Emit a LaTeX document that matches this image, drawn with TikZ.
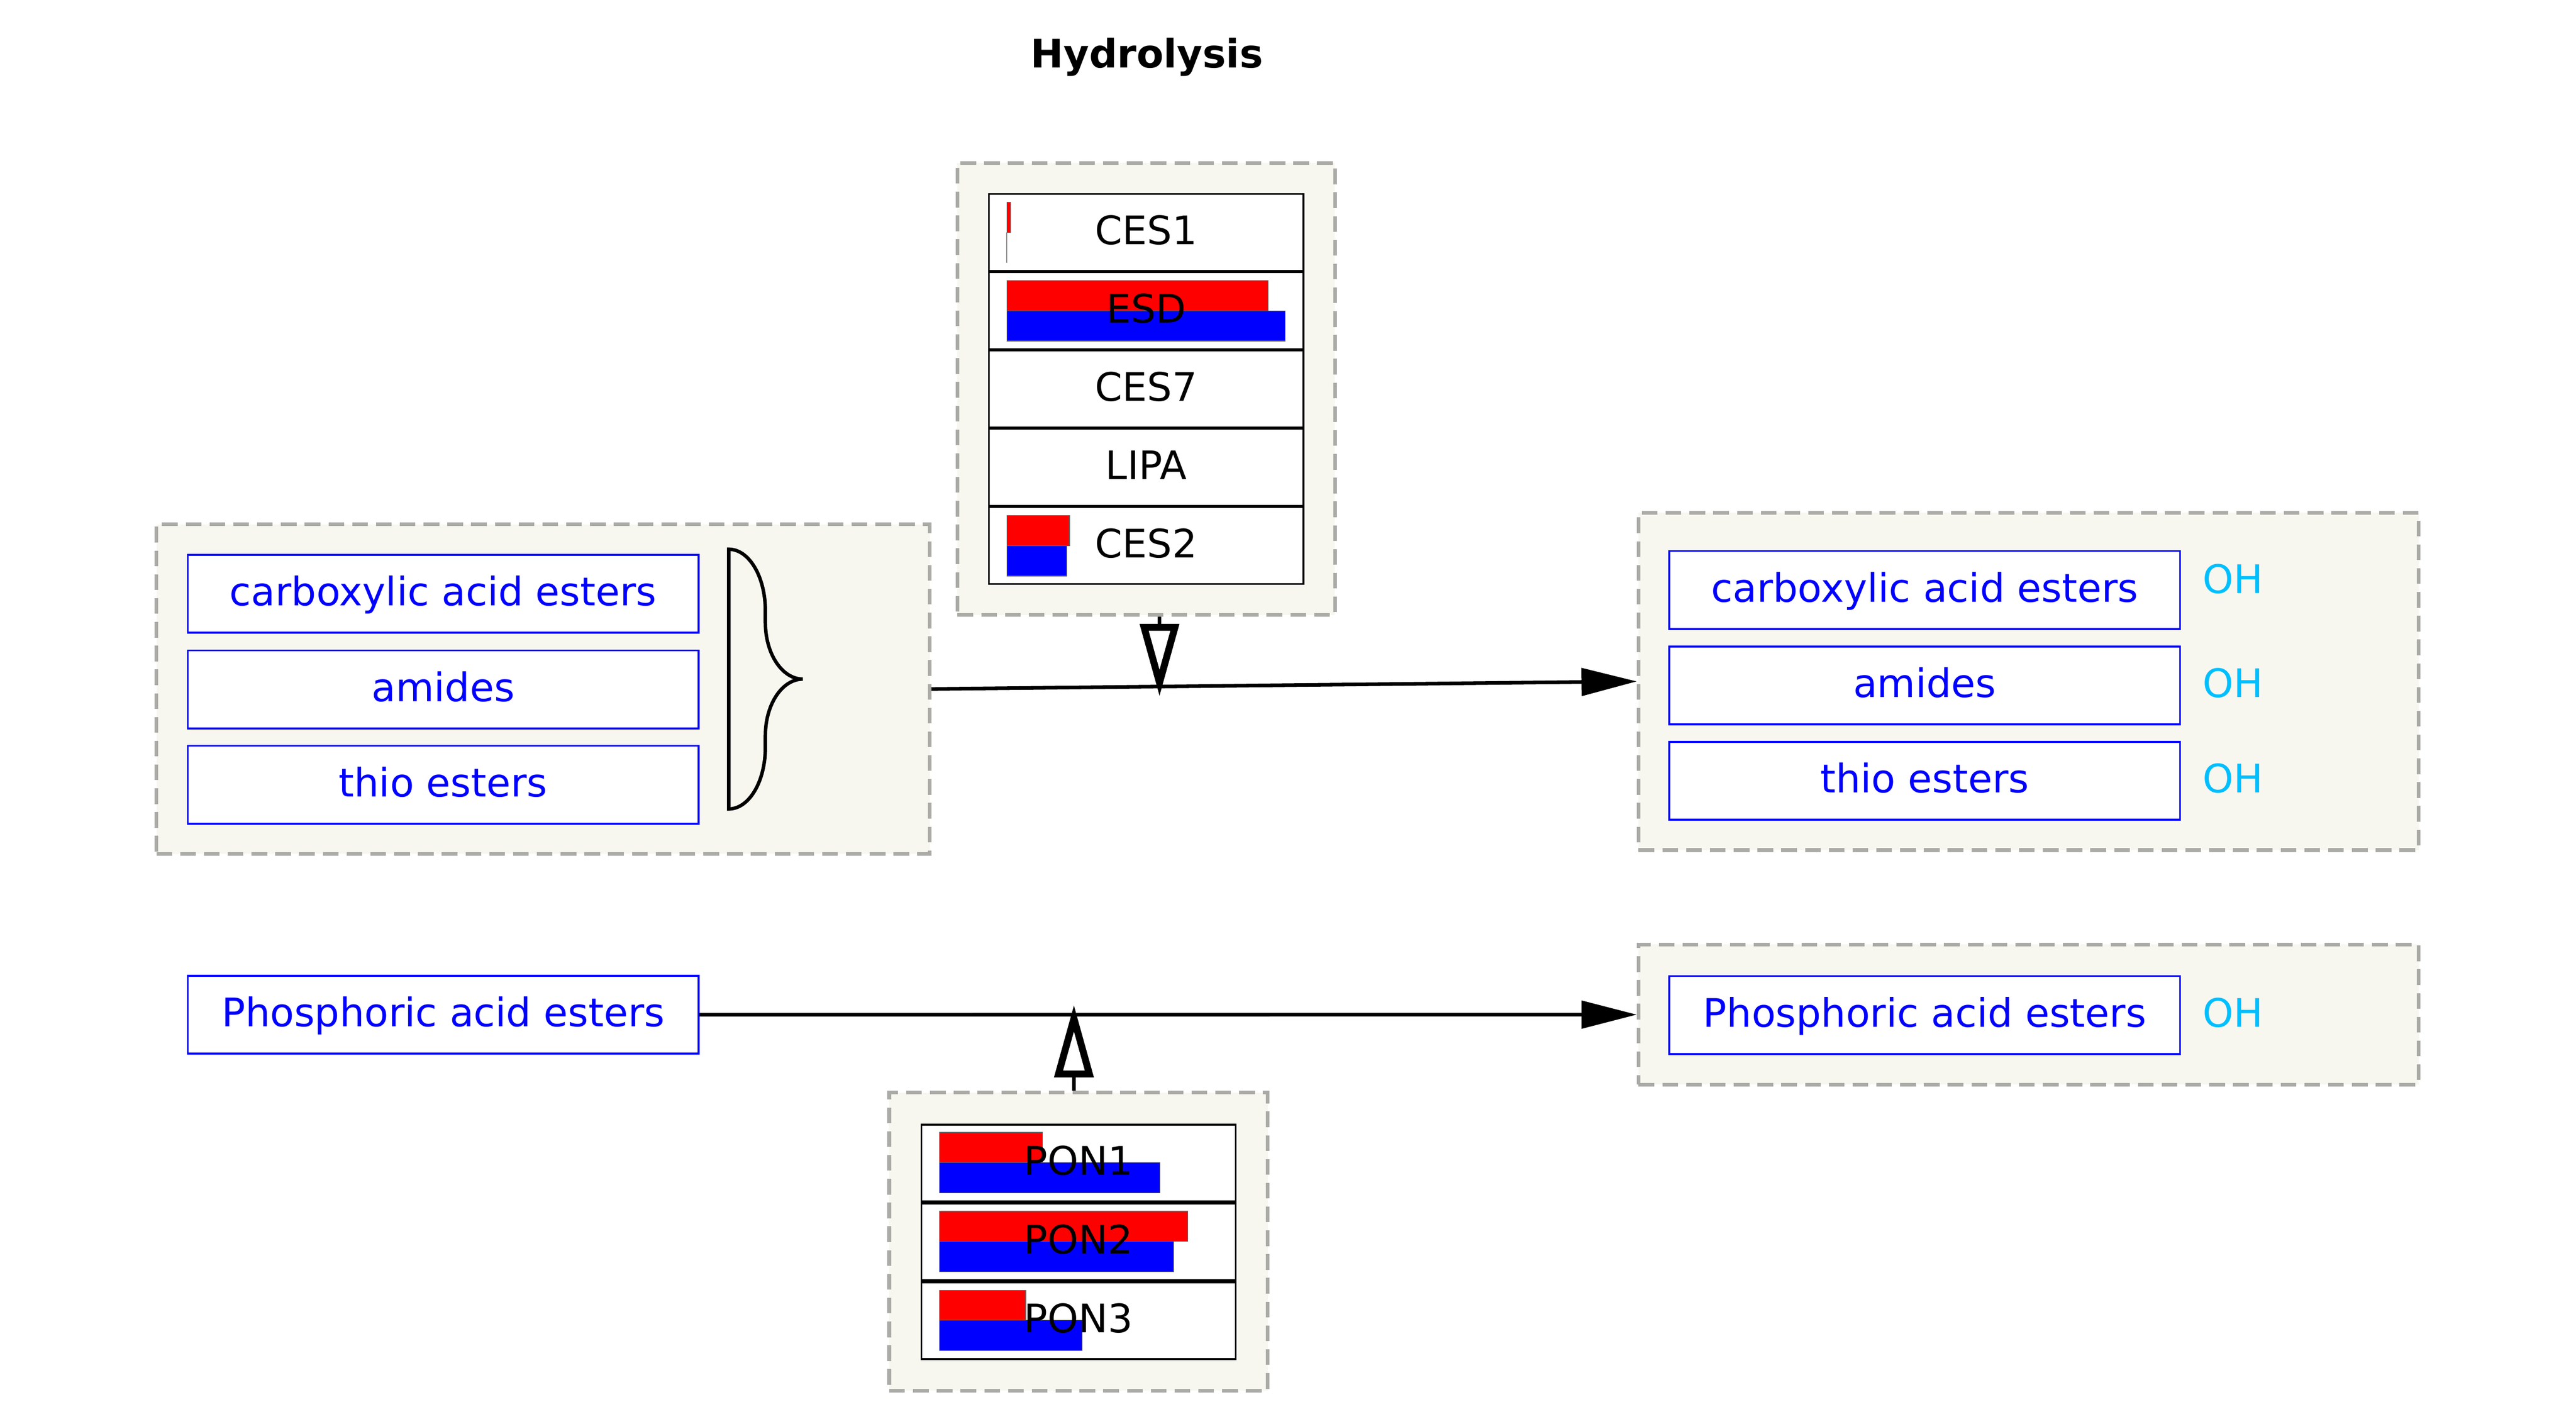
\documentclass[tikz,border=0pt]{standalone}
\usepackage{fontspec}
\setmainfont{DejaVu Sans}
\usetikzlibrary{arrows.meta}
\definecolor{clfill}{RGB}{247,247,240}
\definecolor{cldash}{RGB}{170,170,166}
\definecolor{ohcyan}{RGB}{0,191,255}

\begin{document}
\begin{tikzpicture}[x=0.5pt, y=-0.5pt,
  font=\fontsize{11.9}{14}\selectfont,
  cluster/.style={draw=cldash, fill=clfill, line width=1.1pt, dash pattern=on 4.75pt off 2.45pt, inner sep=0pt},
  subst/.style={draw=blue, fill=white, text=blue, line width=0.6pt, minimum width=154.65pt, minimum height=23.6pt, inner sep=0pt, text height=0.72em, text depth=0pt},
  enz/.style={draw=black, line width=0.55pt, minimum width=95.2pt, minimum height=23.2pt, inner sep=0pt, text height=0.72em, text depth=0pt},
  oh/.style={text=ohcyan, anchor=west, inner sep=0pt, text height=0.72em, text depth=0pt},
  rbar/.style={fill=red, draw=black!60, line width=0.2pt},
  bbar/.style={fill=blue, draw=black!60, line width=0.2pt},
  flow/.style={line width=1.1pt, -{Triangle[length=16.75pt, width=8.3pt]}},
  cat/.style={line width=1.1pt, shorten >=-3pt, -{Triangle[open, length=22pt, width=11.5pt, line width=2.1pt]}}
]
\useasboundingbox (0,0) rectangle (1560,851.8);

% Title
\node[font=\fontsize{11.9}{14}\selectfont\bfseries, anchor=base] (title) at (694.5,40.9) {Hydrolysis};

% Clusters
\node[cluster, minimum width=234.15pt, minimum height=99.75pt] (subclu) at (328.85,417.25) {};
\node[cluster, minimum width=114.35pt, minimum height=136.95pt] (cesclu) at (694.15,235.55) {};
\node[cluster, minimum width=236.2pt, minimum height=102.15pt] (resclu) at (1228.5,412.65) {};
\node[cluster, minimum width=236.2pt, minimum height=42.45pt] (phoclu) at (1228.5,614.45) {};
\node[cluster, minimum width=114.65pt, minimum height=90.2pt] (ponclu) at (653.15,751.9) {};

% Substrates
\node[subst] (carbin) at (268.35,359.65) {carboxylic acid esters};
\node[subst] (amidin) at (268.35,417.5) {amides};
\node[subst] (thioin) at (268.35,475.2) {thio esters};
\node[subst] (phosin) at (268.35,614.5) {Phosphoric acid esters};

% Brace
\draw[line width=1.05pt] (441.3,332.6) .. controls (453.5,332.6) and (463.5,349) .. (463.5,370)
  -- (463.5,377) .. controls (463.5,396) and (473.7,411.25) .. (486.2,411.25)
  .. controls (473.7,411.25) and (463.5,426.5) .. (463.5,445.5)
  -- (463.5,452.5) .. controls (463.5,473.5) and (453.5,489.9) .. (441.3,489.9) -- cycle;

% Products
\node[subst] (carbout) at (1165.55,357.3) {carboxylic acid esters};
\node[subst] (amidout) at (1165.55,415.1) {amides};
\node[subst] (thioout) at (1165.55,472.85) {thio esters};
\node[subst] (phosout) at (1165.55,614.7) {Phosphoric acid esters};
\node[oh] (oh1) at (1333.5,352) {OH};
\node[oh] (oh2) at (1333.5,415.1) {OH};
\node[oh] (oh3) at (1333.5,472.85) {OH};
\node[oh] (oh4) at (1333.5,614.7) {OH};

% Esterases with bars
\fill[white] (598.4,117) rectangle (789.8,354.1);
\fill[rbar] (609.7,122.5) rectangle +(2.3,18.3);
\draw[black!45, line width=0.3pt] (609.7,140.8) -- (609.7,159.1);
\fill[rbar] (609.7,169.9) rectangle +(158.3,18.3);
\fill[bbar] (609.7,188.2) rectangle +(168.6,18.3);
\fill[rbar] (609.7,312.2) rectangle +(38,18.3);
\fill[bbar] (609.7,330.5) rectangle +(36.3,18.3);
\node[enz] (ces1) at (694.1,140.71) {CES1};
\node[enz] (esd) at (694.1,188.13) {ESD};
\node[enz] (ces7) at (694.1,235.55) {CES7};
\node[enz] (lipa) at (694.1,282.97) {LIPA};
\node[enz] (ces2) at (694.1,330.39) {CES2};

% Paraoxonases with bars
\fill[white] (557.3,680.5) rectangle (749,823.7);
\fill[rbar] (568.9,685.8) rectangle +(62.4,18.3);
\fill[bbar] (568.9,704.1) rectangle +(133.5,18.3);
\fill[rbar] (568.9,733.5) rectangle +(150.3,18.3);
\fill[bbar] (568.9,751.8) rectangle +(141.8,18.3);
\fill[rbar] (568.9,781.3) rectangle +(52.3,18.3);
\fill[bbar] (568.9,799.6) rectangle +(86.4,18.3);
\node[enz] (pon1) at (653.15,704.37) {PON1};
\node[enz] (pon2) at (653.15,752.1) {PON2};
\node[enz] (pon3) at (653.15,799.83) {PON3};

% Reactions
\draw[flow] (subclu.east) -- coordinate[pos=0.3233] (cesmeet) (resclu.west);
\draw[flow] (phosin.east) -- coordinate[pos=0.3995] (ponmeet) (phoclu.west);
\draw[cat] (cesclu.south -| cesmeet) -- (cesmeet);
\draw[cat] (ponclu.north -| ponmeet) -- (ponmeet);
\end{tikzpicture}
\end{document}
